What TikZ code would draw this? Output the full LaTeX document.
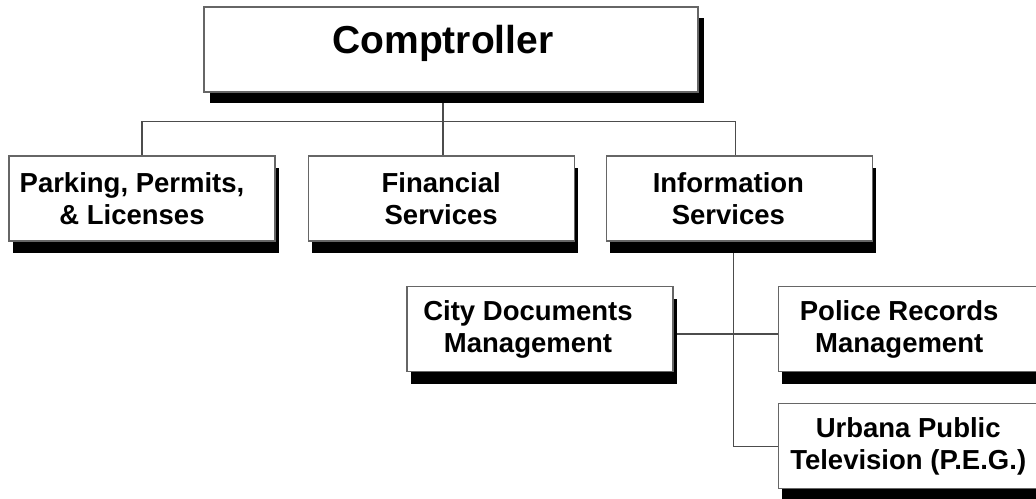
\documentclass[tikz,border=0pt]{standalone}
\usepackage{fontspec}
\setmainfont{Liberation Sans}
\usetikzlibrary{positioning, shadows, backgrounds}

\begin{document}
\begin{tikzpicture}[x=1pt,y=-1pt,
                    box/.style={draw=black!60,line width=1.2pt,fill=white,minimum width=266pt,minimum height=85pt},
                    unit/.style={box,drop shadow={shadow xshift=4pt,shadow yshift=-12pt,fill=black,opacity=1}},
                    head/.style={box,minimum width=494pt,drop shadow={shadow xshift=6pt,shadow yshift=-11pt,fill=black,opacity=1}},
                    lbl/.style={align=center,font=\bfseries\fontsize{27.5}{32}\selectfont},
                    link/.style={draw=black!70,line width=1.1pt}]

  \clip (0,0) rectangle (1036,498);

  \node[head,label={[lbl,font=\bfseries\fontsize{39}{44}\selectfont,xshift=-8pt,yshift=6pt]center:Comptroller}] (comp) at (451,49.5) {};

  \node[unit,label={[lbl,xshift=-10pt]center:{Parking, Permits,\\ \& Licenses}}] (park) at (142,198.5) {};
  \node[unit,label={[lbl]center:{Financial\\ Services}}] (fin) [right=32pt of park] {};
  \node[unit,label={[lbl,xshift=-11pt]center:{Information\\ Services}}] (info) [right=31pt of fin] {};

  \node[unit,label={[lbl,xshift=-12pt]center:{City Documents\\ Management}}] (city) at (540,329) {};
  \node[unit,label={[lbl,xshift=-12pt]center:{Police Records\\ Management}}] (pol) [right=104pt of city] {};
  \node[unit,label={[lbl,xshift=-3pt]center:{Urbana Public\\ Television (P.E.G.)}}] (urb) [below=31pt of pol] {};

  \begin{scope}[on background layer]
  \draw[link] ([xshift=-8pt]comp.south) -- ([xshift=-8pt]comp.south |- fin.north);
  \draw[link] (park.north) -- ++(0,-34) -| ([xshift=-4pt]info.north);
  \draw[link] ([xshift=-6pt]info.south) |- (urb.west);
  \draw[link] ([yshift=-5pt]city.east) -- ([yshift=-5pt]pol.west);
  \end{scope}

\end{tikzpicture}
\end{document}
